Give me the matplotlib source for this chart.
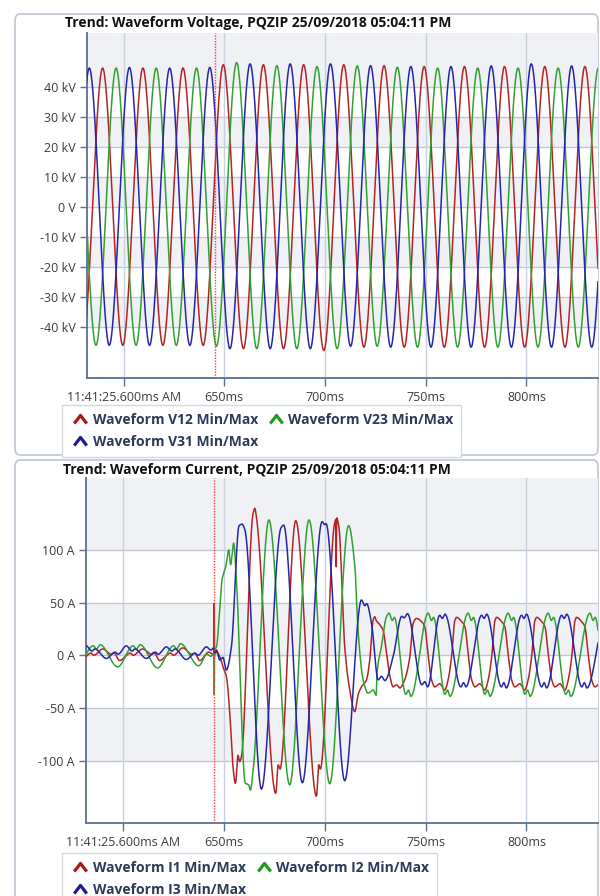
import numpy as np
import matplotlib
matplotlib.use("Agg")
import matplotlib.pyplot as plt
from matplotlib.path import Path
from matplotlib.lines import Line2D
from matplotlib.patches import FancyBboxPatch

plt.rcParams['font.family'] = ['Open Sans', 'DejaVu Sans']

# ---------------- data ----------------
X_TICKS = [600, 650, 700, 750, 800]
X_TICK_LABELS = ['11:41:25.600ms AM', '650ms', '700ms', '750ms', '800ms']
CURSOR_MS = 645.2

V_TITLE = 'Trend: Waveform Voltage, PQZIP 25/09/2018 05:04:11 PM'
I_TITLE = 'Trend: Waveform Current, PQZIP 25/09/2018 05:04:11 PM'
V_LEGEND = ['Waveform V12 Min/Max', 'Waveform V23 Min/Max', 'Waveform V31 Min/Max']
I_LEGEND = ['Waveform I1 Min/Max', 'Waveform I2 Min/Max', 'Waveform I3 Min/Max']

V_TICKS = [-40, -30, -20, -10, 0, 10, 20, 30, 40]
V_TICK_LABELS = ['-40 kV', '-30 kV', '-20 kV', '-10 kV', '0 V', '10 kV', '20 kV', '30 kV', '40 kV']
I_TICKS = [-100, -50, 0, 50, 100]
I_TICK_LABELS = ['-100 A', '-50 A', '0 A', '50 A', '100 A']

# Voltage: successive half-cycle extrema (time ms, kV)
V12_T = [579.6, 589.6, 599.6, 609.6, 619.5, 629.5, 639.5, 649.5, 659.5, 669.4, 679.4, 689.4, 699.4, 709.3,
         719.3, 729.3, 739.3, 749.2, 759.2, 769.2, 779.2, 789.1, 799.1, 809.1, 819.1, 829.0, 839.0]
V12_V = [-46.2, 46.4, -46.2, 46.4, -46.2, 46.4, -46.2, 47.5, -47.3, 47.5, -47.3, 47.5, -47.9, 47.5,
         -46.8, 47.2, -46.8, 46.9, -46.8, 46.9, -46.8, 46.9, -46.8, 46.9, -46.8, 46.9, -46.8]
V23_T = [576.3, 586.3, 596.3, 606.2, 616.2, 626.2, 636.2, 646.1, 656.1, 666.1, 676.1, 686.0, 696.0, 706.0,
         716.0, 725.9, 735.9, 745.9, 755.9, 765.8, 775.8, 785.8, 795.8, 805.7, 815.7, 825.7, 835.7, 845.6]
V23_V = [46.4, -46.2, 46.4, -46.2, 46.4, -46.2, 46.4, -46.5, 48.2, -47.3, 47.2, -47.3, 46.9, -47.3,
         47.1, -46.5, 46.7, -46.8, 46.4, -46.8, 46.4, -46.8, 46.4, -46.8, 46.4, -46.8, 46.4, -46.8]
V31_T = [573.0, 583.0, 592.9, 602.9, 612.9, 622.9, 632.9, 642.8, 652.8, 662.8, 672.8, 682.7, 692.7, 702.7,
         712.7, 722.6, 732.6, 742.6, 752.6, 762.5, 772.5, 782.5, 792.5, 802.4, 812.4, 822.4, 832.4, 842.3]
V31_V = [-46.2, 46.4, -46.2, 46.6, -46.2, 46.4, -46.2, 46.6, -47.3, 47.8, -47.3, 47.8, -47.3, 47.8,
         -46.5, 47.2, -46.8, 46.9, -46.8, 46.9, -46.8, 47.1, -46.8, 47.8, -46.8, 47.1, -46.8, 47.0]

# Current: key points (time ms, A)
I1_PTS = [(579.5, -4), (584.0, 2), (585.5, 0), (589.9, 6), (594.0, 1), (595.5, 2), (598.3, -5), (603.5, 2),
          (605.0, 0), (609.7, 6), (614.0, 1), (615.5, 2), (618.1, -5), (623.5, 2), (625.0, 0), (629.6, 7),
          (634.0, 1), (635.5, 2), (638.0, -5), (642.5, 3), (644.6, 1), (645.0, 2), (645.15, 50), (645.3, 1),
          (646.3, 3), (647.9, -1), (649.5, -11), (651.2, -20), (652.9, -55), (654.5, -106), (655.7, -121.5),
          (657.0, -95), (657.8, -101), (658.7, -96), (664.4, 134), (665.3, 139.5), (666.1, 131.5),
          (675.7, -131), (676.9, -104), (677.8, -108), (685.6, 127.8), (695.9, -133.7), (697.0, -104),
          (697.8, -108), (704.8, 124.5), (705.5, 129), (705.7, 84), (705.9, 130.4), (707.0, 122), (709.9, 8),
          (712.4, -33), (714.9, -53.5), (716.5, -37.7), (718.2, -30), (720.7, -23.4), (722.3, -4.5),
          (724.0, 33.5), (724.8, 36.6), (725.5, 33), (727.3, 29), (728.9, 24), (730.6, 2), (732.3, -20),
          (733.9, -30), (735.5, -28), (737.2, -31), (739.7, -23), (742.2, -1.3), (743.8, 30),
          (745.5, 35), (748.0, 32), (749.6, 27), (751.3, 0), (752.9, -23), (754.6, -30), (757.0, -27),
          (759.5, -33), (761.2, -23), (762.9, -1), (764.5, 33),
          (765.4, 36), (767.9, 32), (769.5, 27), (771.2, 0), (772.8, -23), (774.5, -30), (776.9, -27),
          (779.4, -33), (781.1, -23), (782.8, -1), (784.4, 33),
          (785.2, 36), (787.7, 32), (789.3, 27), (791.0, 0), (792.6, -23), (794.3, -30), (796.7, -27),
          (799.2, -33), (800.9, -23), (802.6, -1), (804.2, 33),
          (805.1, 36), (807.6, 32), (809.2, 27), (810.9, 0), (812.5, -23), (814.2, -30), (816.6, -27),
          (819.1, -33), (820.8, -23), (822.5, -1), (824.1, 33),
          (824.9, 36), (827.4, 32), (829.0, 27), (830.7, 0), (832.3, -23), (834.0, -30), (836.4, -27),
          (838.9, -33)]
I2_PTS = [(577.3, -10), (585.2, 9), (586.8, 6), (588.6, 10), (597.3, -11), (605.0, 9), (606.6, 6), (608.4, 10),
          (617.1, -12), (625.0, 9), (626.6, 6), (628.4, 11), (637.5, -10), (641.5, 1), (643.5, -1), (645.0, 2),
          (645.15, -37.7), (645.3, 4), (646.3, 8), (647.9, 43), (649.0, 71), (651.0, 85), (652.4, 100),
          (653.3, 86), (654.8, 106.5), (656.2, 71), (660.6, -121.5), (662.3, -123), (663.1, -128),
          (664.4, -111), (672.3, 128.5), (682.6, -123), (692.2, 128.5), (702.5, -122), (711.8, 123),
          (714.9, 85), (716.5, 24), (719.0, -23), (721.5, -36), (724.0, -33), (725.5, -38), (725.8, -20),
          (728.1, 8), (730.6, 36.6), (731.9, 40), (733.5, 33), (734.5, 36), (740.2, -37), (741.5, -33),
          (742.7, -39), (751.3, 40), (752.9, 33), (753.9, 36), (759.6, -37), (760.9, -33), (762.1, -39),
          (771.1, 40), (772.7, 33), (773.7, 36), (779.4, -37), (780.7, -33), (781.9, -39), (791.0, 40),
          (792.6, 33), (793.6, 36), (799.3, -37), (800.6, -33), (801.8, -39), (810.8, 40), (812.4, 33),
          (813.4, 36), (819.5, -37), (820.8, -33), (822.0, -39), (831.5, 40), (833.1, 33), (834.1, 36),
          (839.5, -37)]
I3_PTS = [(579.0, 7), (581.7, 9), (584.5, 4), (586.0, 6), (591.7, -3), (596.0, 3), (597.5, 1), (601.6, 9),
          (604.4, 4), (605.9, 6), (611.5, -3), (615.9, 3), (617.4, 1), (621.4, 8), (624.2, 4), (625.7, 6),
          (631.3, -4), (635.7, 2), (637.2, 0), (641.3, 8), (643.5, 5), (645.0, 7), (645.3, 2), (646.3, 5),
          (647.9, -4.5), (649.5, -2), (651.2, -14), (653.7, 8), (657.5, 123), (659.0, 124.5), (660.4, 119),
          (668.6, -127), (678.3, 121), (679.6, 123.5), (688.9, -121), (698.7, 126.8), (700.0, 124),
          (700.6, 125), (709.9, -119), (718.2, 52.5), (719.9, 47), (720.8, 49), (723.2, 30), (726.5, -23.4),
          (728.1, -20), (729.8, -24), (733.9, -1.3), (738.2, 37), (739.4, 35.5), (741.0, 39.5),
          (748.2, -28), (749.6, -25), (751.0, -30), (757.0, 38), (758.3, 35), (759.6, 39),
          (767.5, -30), (768.8, -26), (770.0, -30), (777.8, 38), (779.0, 35), (780.3, 39),
          (787.6, -30), (788.8, -26), (790.0, -31), (797.6, 38), (798.8, 35), (800.0, 39),
          (807.6, -30), (808.8, -26), (810.0, -31), (817.5, 38), (818.7, 35), (820.0, 39),
          (827.5, -30), (828.7, -26), (830.0, -31), (839.5, 38)]

# ---------------- styling ----------------
RED, GREEN, BLUE = '#b42424', '#31a231', '#2626a8'
MK_RED, MK_GREEN, MK_BLUE = '#a01c1c', '#239a23', '#1c1c90'
SPINE = '#5c7090'
BAND = '#eff1f5'
VGRID = '#c8d1de'
HGRID = '#c2c7d0'
W, H = 600, 896


def smooth(tk, vk, tn):
    """Monotone cubic (PCHIP) curve through the read key points."""
    x = np.asarray(tk, float)
    y = np.asarray(vk, float)
    h = np.diff(x)
    d = np.diff(y) / h
    m = np.zeros_like(y)
    for k in range(1, len(x) - 1):
        if d[k - 1] * d[k] > 0:
            w1 = 2 * h[k] + h[k - 1]
            w2 = h[k] + 2 * h[k - 1]
            m[k] = (w1 + w2) / (w1 / d[k - 1] + w2 / d[k])
    idx = np.clip(np.searchsorted(x, tn) - 1, 0, len(x) - 2)
    t = (tn - x[idx]) / h[idx]
    h00 = 2 * t**3 - 3 * t**2 + 1
    h10 = t**3 - 2 * t**2 + t
    h01 = -2 * t**3 + 3 * t**2
    h11 = t**3 - t**2
    return h00 * y[idx] + h10 * h[idx] * m[idx] + h01 * y[idx + 1] + h11 * h[idx] * m[idx + 1]


def fig_rect(left, top, right, bottom):
    return [left / W, 1 - bottom / H, (right - left) / W, (bottom - top) / H]


fig = plt.figure(figsize=(6, 8.96), dpi=100)
fig.patch.set_facecolor('white')

# panel frames
for (l, t, r, b) in [(15, 14, 598, 455), (15, 460, 598, 905)]:
    fig.add_artist(FancyBboxPatch((l / W, 1 - b / H), (r - l) / W, (b - t) / H,
                                  boxstyle='round,pad=0,rounding_size=0.008',
                                  transform=fig.transFigure, facecolor='none',
                                  edgecolor='#bcc6d4', lw=1.2, zorder=0))

chev = Path([(-1, -0.65), (0, 0.65), (1, -0.65)], [Path.MOVETO, Path.LINETO, Path.LINETO])


def style_axes(ax, ylim, yticks, ylabels, bands):
    ax.set_xlim(581.6, 835.5)
    ax.set_ylim(*ylim)
    ax.set_facecolor('white')
    for lo, hi in bands:
        ax.axhspan(lo, hi, color=BAND, zorder=0, lw=0)
    for yt in yticks:
        ax.axhline(yt, color=HGRID, lw=1.0, zorder=0.5)
    for xt in X_TICKS:
        ax.axvline(xt, color=VGRID, lw=1.0, zorder=0.5)
    ax.set_yticks(yticks)
    ax.set_yticklabels(ylabels)
    ax.set_xticks(X_TICKS)
    ax.set_xticklabels(X_TICK_LABELS)
    for s in ['top', 'right']:
        ax.spines[s].set_visible(False)
    for s in ['left', 'bottom']:
        ax.spines[s].set_color(SPINE)
        ax.spines[s].set_linewidth(1.3)
    ax.tick_params(axis='y', length=5, width=1, color=SPINE, pad=3, labelsize=9, labelcolor='#3c3c3c')
    ax.tick_params(axis='x', length=6, width=1, color=SPINE, pad=3, labelsize=9, labelcolor='#3c3c3c')
    ax.axvline(CURSOR_MS, color='#ff3b3b', lw=1.0, ls=(0, (1, 1)), zorder=5)


def add_legend(ax, labels, top_px):
    handles = [Line2D([], [], ls='None', marker=chev, markersize=9, markeredgewidth=2.3,
                      fillstyle='none', color=c) for c in (MK_RED, MK_GREEN, MK_BLUE)]
    order = [0, 2, 1]
    leg = ax.legend([handles[i] for i in order], [labels[i] for i in order], ncol=2,
                    loc='upper left', bbox_to_anchor=(62 / W, 1 - top_px / H),
                    bbox_transform=fig.transFigure, borderaxespad=0, frameon=True,
                    fancybox=False, edgecolor='#d2d8e2', framealpha=1, handlelength=1.5,
                    handletextpad=0.15, columnspacing=0.55, labelspacing=0.6, borderpad=0.55,
                    prop={'weight': 'bold', 'size': 10})
    leg.get_frame().set_linewidth(1.0)
    for txt in leg.get_texts():
        txt.set_color('#2c3a5a')


tn = np.linspace(575, 842, 9000)

# ---- voltage panel ----
axv = fig.add_axes(fig_rect(86.5, 33, 598, 378.3))
style_axes(axv, (-57.2, 58.1), V_TICKS, V_TICK_LABELS,
           [(40, 60), (20, 30), (0, 10), (-20, -10), (-40, -30)])
axv.plot(tn, smooth(V12_T, V12_V, tn), color=RED, lw=1.1, zorder=3)
axv.plot(tn, smooth(V23_T, V23_V, tn), color=GREEN, lw=1.1, zorder=3)
axv.plot(tn, smooth(V31_T, V31_V, tn), color=BLUE, lw=1.1, zorder=3)
fig.text(65 / W, 1 - 23 / H, V_TITLE, ha='left', va='center', fontsize=10, fontweight='bold', color='#111111')
add_legend(axv, V_LEGEND, 405)

# ---- current panel ----
axi = fig.add_axes(fig_rect(86, 478.3, 598, 823.3))
style_axes(axi, (-159.5, 168), I_TICKS, I_TICK_LABELS,
           [(100, 170), (0, 50), (-100, -50)])
for pts, c in [(I1_PTS, RED), (I2_PTS, GREEN), (I3_PTS, BLUE)]:
    tk = [p[0] for p in pts]
    vk = [p[1] for p in pts]
    axi.plot(tn, smooth(tk, vk, tn), color=c, lw=1.1, zorder=3)
fig.text(63 / W, 1 - 469 / H, I_TITLE, ha='left', va='center', fontsize=10, fontweight='bold', color='#111111')
add_legend(axi, I_LEGEND, 853)

fig.savefig('out.png', dpi=100)
